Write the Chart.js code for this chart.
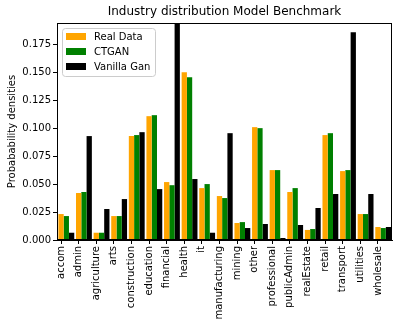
<!DOCTYPE html>
<html lang="en">
  <head>
    <meta charset="UTF-8" />
    <title>Industry distribution Model Benchmark</title>
    <script src="https://cdn.jsdelivr.net/npm/chart.js"></script>
    <style>
      body {
        margin: 0;
        background: #fff;
      }
      #wrap {
        width: 398px;
        height: 328px;
      }
    </style>
  </head>
  <body>
    <div id="wrap"><canvas id="chart" width="398" height="328"></canvas></div>

    <script>
      const industries = [
        "accom", "admin", "agriculture", "arts", "construction", "education",
        "financial", "health", "it", "manufacturing", "mining", "other",
        "professional", "publicAdmin", "realEstate", "retail", "transport",
        "utilities", "wholesale",
      ];
      const realData = [
        0.0232, 0.042, 0.0065, 0.0214, 0.093, 0.1107, 0.0518, 0.150, 0.0464,
        0.0393, 0.0152, 0.1009, 0.0625, 0.0429, 0.009, 0.0938, 0.0616, 0.0232, 0.0116,
      ];
      const ctgan = [
        0.0214, 0.0429, 0.0065, 0.0214, 0.0938, 0.1116, 0.049, 0.1455, 0.05,
        0.0375, 0.016, 0.100, 0.0625, 0.0464, 0.0098, 0.0955, 0.0625, 0.0232, 0.0107,
      ];
      const vanillaGan = [
        0.0065, 0.0929, 0.0277, 0.0366, 0.0964, 0.0455, 0.21, 0.0545, 0.0065,
        0.0955, 0.0107, 0.0143, 0.0018, 0.0134, 0.0286, 0.0411, 0.1857, 0.0411, 0.0116,
      ];
      const yTicks = [0, 0.025, 0.05, 0.075, 0.1, 0.125, 0.15, 0.175];

      // bars are grouped around i + 0.3 so the tick sits under the orange bar
      const pts = (arr) => arr.map((v, i) => ({ x: i + 0.3, y: v }));

      const font = "DejaVu Sans";

      const frameAndLegend = {
        id: "frameAndLegend",
        afterDraw(chart) {
          const { ctx, chartArea: a } = chart;
          ctx.save();
          ctx.strokeStyle = "#000";
          ctx.lineWidth = 1;
          ctx.strokeRect(a.left + 0.5, a.top + 0.5, a.right - a.left - 1, a.bottom - a.top - 1);

          // title centered over the axes
          ctx.fillStyle = "#000";
          ctx.font = "12px '" + font + "'";
          ctx.textAlign = "center";
          ctx.textBaseline = "middle";
          ctx.fillText("Industry distribution Model Benchmark", (a.left + a.right) / 2, 12);

          // legend box in the upper left
          const x0 = a.left + 5, y0 = a.top + 5, w = 93, h = 48;
          ctx.beginPath();
          ctx.roundRect(x0 + 0.5, y0 + 0.5, w, h, 3);
          ctx.fillStyle = "rgba(255,255,255,0.8)";
          ctx.fill();
          ctx.strokeStyle = "#cccccc";
          ctx.stroke();
          ctx.font = "10px '" + font + "'";
          ctx.textAlign = "left";
          chart.data.datasets.forEach((ds, k) => {
            const cy = y0 + 8.5 + k * 15;
            ctx.fillStyle = ds.backgroundColor;
            ctx.fillRect(x0 + 4, cy - 3.5, 20, 7);
            ctx.fillStyle = "#000";
            ctx.fillText(ds.label, x0 + 32, cy + 0.5);
          });
          ctx.restore();
        },
      };

      new Chart(document.getElementById("chart"), {
        type: "bar",
        data: {
          datasets: [
            { label: "Real Data", data: pts(realData), backgroundColor: "#ffa500" },
            { label: "CTGAN", data: pts(ctgan), backgroundColor: "#008000" },
            { label: "Vanilla Gan", data: pts(vanillaGan), backgroundColor: "#000000" },
          ],
        },
        options: {
          responsive: false,
          animation: false,
          devicePixelRatio: 1,
          categoryPercentage: 0.9,
          barPercentage: 1.0,
          layout: { padding: { top: 23, right: 6, left: 0, bottom: 0 } },
          plugins: {
            legend: { display: false },
            title: { display: false },
            tooltip: { enabled: false },
          },
          scales: {
            x: {
              type: "linear",
              offset: false,
              min: -0.23,
              max: 18.8,
              afterBuildTicks: (s) => {
                s.ticks = industries.map((c, i) => ({ value: i }));
              },
              afterFit: (s) => {
                s.height = 88;
              },
              grid: {
                display: true,
                offset: false,
                drawOnChartArea: false,
                drawTicks: true,
                tickLength: 4,
                color: "#000",
              },
              border: { display: true, color: "#000" },
              ticks: {
                autoSkip: false,
                minRotation: 90,
                maxRotation: 90,
                padding: 2,
                color: "#000",
                font: { family: font, size: 10 },
                callback: (v) => industries[v] ?? "",
              },
            },
            y: {
              min: 0,
              max: 0.194,
              afterBuildTicks: (s) => {
                s.ticks = yTicks.map((v) => ({ value: v }));
              },
              afterFit: (s) => {
                s.width = 57;
              },
              grid: {
                display: true,
                drawOnChartArea: false,
                drawTicks: true,
                tickLength: 4,
                color: "#000",
              },
              border: { display: true, color: "#000" },
              ticks: {
                padding: 2,
                color: "#000",
                font: { family: font, size: 10 },
                callback: (v) => v.toFixed(3),
              },
              title: {
                display: true,
                text: "Probabability densities",
                color: "#000",
                font: { family: font, size: 10 },
                padding: { top: 6, bottom: 0 },
              },
            },
          },
        },
        plugins: [frameAndLegend],
      });
    </script>
  </body>
</html>
